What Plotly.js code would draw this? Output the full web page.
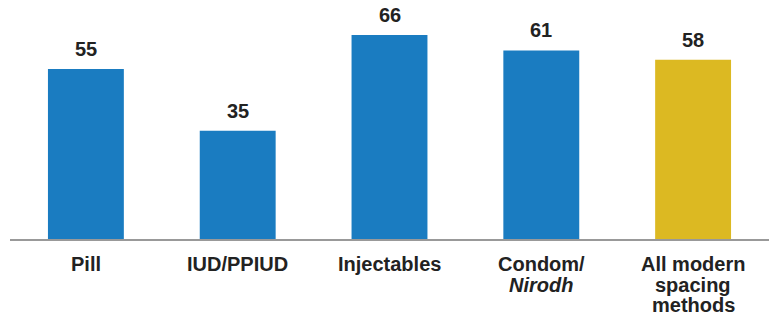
<!DOCTYPE html>
<html>
<head>
<meta charset="utf-8">
<script src="https://cdn.plot.ly/plotly-3.0.1.min.js"></script>
<style>html,body{margin:0;padding:0;background:#fff;}#chart{width:769px;height:315px;}</style>
</head>
<body>
<div id="chart"></div>
<script>
var categories = ["Pill", "IUD/PPIUD", "Injectables", "Condom/Nirodh", "All modern spacing methods"];
var tickLabels = ["Pill", "IUD/PPIUD", "Injectables", "Condom/<br><i>Nirodh</i>", "All modern<br>spacing<br>methods"];
var values = [55, 35, 66, 61, 58];
var barColors = ["#1a7cc1", "#1a7cc1", "#1a7cc1", "#1a7cc1", "#dcb922"];

var FONT = "Liberation Sans, Arial, sans-serif";

var trace = {
  type: "bar",
  x: categories,
  y: values,
  marker: {color: barColors},
  hoverinfo: "none"
};

var annotations = categories.map(function (c, i) {
  return {
    x: c, y: values[i], xref: "x", yref: "y",
    text: "<b>" + values[i] + "</b>",
    showarrow: false, yanchor: "bottom", yshift: 7,
    font: {family: FONT, size: 20, color: "#222"}
  };
});

categories.forEach(function (c, i) {
  tickLabels[i].split("<br>").forEach(function (line, k) {
    annotations.push({
      x: c, y: 0, xref: "x", yref: "paper",
      text: "<b>" + line + "</b>",
      showarrow: false, yanchor: "middle", borderpad: 0,
      yshift: -(25 + 20.5 * k),
      font: {family: FONT, size: 20, color: "#222"}
    });
  });
});

var layout = {
  width: 769, height: 315,
  margin: {l: 10, r: 0, t: 0, b: 76},
  paper_bgcolor: "#fff", plot_bgcolor: "#fff",
  bargap: 0.5,
  showlegend: false,
  xaxis: {
    type: "category",
    showticklabels: false,
    showline: true, linecolor: "#999", linewidth: 1.5,
    ticks: "", showgrid: false, zeroline: false,
    range: [-0.5, 4.5]
  },
  yaxis: {
    range: [0, 77.3],
    visible: false, showgrid: false, zeroline: false
  },
  annotations: annotations
};

Plotly.newPlot("chart", [trace], layout, {displayModeBar: false, staticPlot: true});
</script>
</body>
</html>
